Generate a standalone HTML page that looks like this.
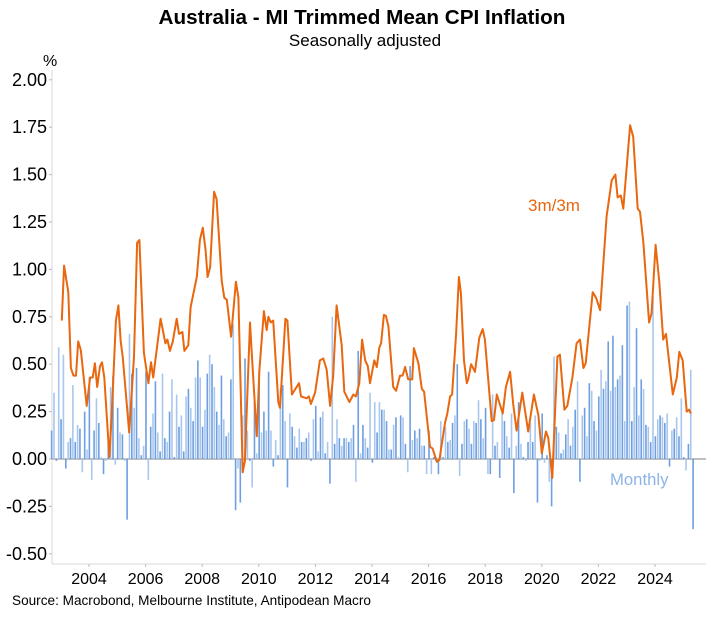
<!DOCTYPE html>
<html><head><meta charset="utf-8"><style>
body{margin:0;background:#fff;}
svg text{font-family:"Liberation Sans",Arial,sans-serif;}
</style></head><body>
<svg id="chart" width="723" height="612" viewBox="0 0 723 612">
<text x="362" y="24" text-anchor="middle" font-size="20.7" font-weight="bold" fill="#000">Australia - MI Trimmed Mean CPI Inflation</text>
<text x="365" y="46" text-anchor="middle" font-size="17" fill="#000">Seasonally adjusted</text>
<text x="43" y="66" font-size="16" fill="#000">%</text>
<g id="grid"></g>
<g id="bars"></g>
<g id="line"></g>
<text x="528" y="211" font-size="17" fill="#E8670F">3m/3m</text>
<text x="610" y="485" font-size="16.7" fill="#8DB4E8">Monthly</text>
<text x="12" y="605" font-size="13.6" fill="#000">Source: Macrobond, Melbourne Institute, Antipodean Macro</text>
</svg>
<script>
const yTicks = [-0.5,-0.25,0,0.25,0.5,0.75,1.0,1.25,1.5,1.75,2.0];
const xTickYears = [2004,2006,2008,2010,2012,2014,2016,2018,2020,2022,2024];
const barStartYear = 2002.68;
const monthlyValues = [0.15,0.35,-0.01,0.59,0.21,0.55,-0.05,0.09,0.11,0.39,0.09,0.18,0.16,-0.07,0.25,0.05,0.43,-0.11,0.15,0.32,0.19,0.01,-0.08,-0.01,0.10,0.38,0.44,-0.03,0.27,0.14,0.13,-0.01,-0.32,0.66,0.45,0.27,0.48,0.11,0.02,0.07,0.46,-0.11,0.17,0.24,0.41,0.14,0.04,
0.45,0.11,0.09,0.25,0.42,0.01,0.34,0.17,0.23,0.04,0.33,0.37,0.27,0.20,0.43,0.52,0.43,0.17,0.26,0.45,0.55,0.50,0.38,0.25,0.18,0.44,0.21,0.12,0.14,0.42,0.71,-0.27,-0.05,-0.23,0.23,0.53,0.15,-0.01,-0.15,0.30,0.03,0.47,0.14,0.25,0.15,
0.46,0.15,-0.04,0.10,0.02,0.37,0.39,0.20,-0.15,0.24,0.17,0.12,0.06,0.16,0.09,0.09,0.11,0.14,-0.01,0.21,0.28,0.04,0.22,0.25,0.03,0.09,-0.13,0.75,0.08,0.21,0.11,0.07,0.11,0.11,0.09,0.11,0.18,-0.12,0.57,0.03,0.18,0.11,0.06,0.35,-0.02,
0.30,0.14,0.30,0.26,0.26,0.20,0.05,0.05,0.18,0.22,0.01,0.23,0.22,0.08,-0.07,0.49,0.10,0.15,0.11,0.16,0.07,0.07,-0.08,0.15,-0.08,0.01,0.01,-0.08,0.20,0.01,0.17,0.09,0.10,0.19,0.23,0.50,-0.09,0.08,0.20,0.21,0.16,0.08,0.20,0.19,0.31,
0.21,0.11,0.27,-0.08,-0.08,0.34,0.07,0.09,-0.10,0.24,0.20,0.12,0.06,0.24,-0.18,0.07,0.30,0.08,0.01,-0.01,0.09,0.19,0.09,0.23,-0.23,-0.01,0.24,-0.02,0.02,-0.12,-0.25,0.54,0.17,0.14,0.03,0.05,0.13,0.21,0.07,0.17,0.26,0.41,-0.12,0.23,0.27,
0.12,0.40,0.36,0.20,0.15,0.33,0.47,0.37,0.41,0.62,0.36,0.65,0.38,0.42,0.44,0.60,0.20,0.81,0.83,0.20,0.38,0.69,0.23,0.42,0.37,0.18,0.17,0.09,0.86,0.12,0.21,0.23,0.22,0.19,0.24,-0.04,0.15,0.16,0.22,0.12,0.32,0.01,-0.06,0.08,0.47,-0.37];
const lineYears = [2003.04,2003.12,2003.27,2003.36,2003.45,2003.54,2003.62,2003.71,2003.92,2004.04,2004.13,2004.21,2004.29,2004.39,2004.46,2004.54,2004.72,2004.80,2004.95,2005.04,2005.12,2005.19,2005.42,2005.59,2005.70,2005.78,2005.94,2006.10,2006.19,2006.27,2006.53,2006.70,2006.77,2006.86,2006.96,2007.10,2007.18,2007.30,2007.37,2007.51,2007.59,2007.81,2007.92,2008.02,2008.12,2008.19,2008.28,2008.42,2008.51,2008.69,2008.78,2008.87,2009.02,2009.19,2009.28,2009.43,2009.51,2009.69,2009.77,2009.93,2010.02,2010.18,2010.28,2010.34,2010.42,2010.51,2010.69,2010.75,2010.94,2011.01,2011.17,2011.42,2011.49,2011.69,2011.77,2011.84,2011.99,2012.16,2012.28,2012.40,2012.52,2012.63,2012.75,2012.93,2013.02,2013.20,2013.34,2013.43,2013.55,2013.65,2013.76,2013.85,2013.93,2014.08,2014.17,2014.26,2014.32,2014.42,2014.49,2014.58,2014.75,2014.85,2014.99,2015.08,2015.17,2015.28,2015.42,2015.48,2015.64,2015.76,2015.84,2016.05,2016.14,2016.29,2016.38,2016.58,2016.66,2016.76,2016.83,2016.97,2017.07,2017.14,2017.25,2017.35,2017.40,2017.50,2017.64,2017.79,2017.91,2017.99,2018.23,2018.31,2018.41,2018.62,2018.73,2018.88,2018.99,2019.11,2019.31,2019.52,2019.72,2019.88,2020.00,2020.15,2020.23,2020.37,2020.55,2020.64,2020.80,2020.90,2021.08,2021.23,2021.35,2021.47,2021.55,2021.80,2021.92,2022.06,2022.29,2022.47,2022.60,2022.68,2022.79,2022.88,2023.12,2023.23,2023.39,2023.47,2023.59,2023.79,2023.88,2024.02,2024.15,2024.29,2024.39,2024.63,2024.77,2024.86,2024.98,2025.12,2025.20,2025.27];
const lineValues = [0.73,1.02,0.88,0.48,0.44,0.44,0.62,0.575,0.28,0.43,0.43,0.505,0.38,0.49,0.51,0.43,0.01,0.22,0.73,0.81,0.62,0.54,0.14,0.54,1.14,1.155,0.56,0.40,0.51,0.43,0.74,0.61,0.63,0.57,0.62,0.74,0.66,0.67,0.57,0.60,0.80,0.96,1.155,1.22,1.10,0.96,1.01,1.41,1.37,0.94,0.85,0.84,0.645,0.935,0.85,-0.07,-0.01,0.72,0.51,0.12,0.47,0.78,0.68,0.75,0.72,0.73,0.30,0.27,0.74,0.73,0.34,0.40,0.33,0.32,0.33,0.29,0.35,0.52,0.53,0.47,0.28,0.44,0.81,0.60,0.355,0.30,0.34,0.33,0.40,0.63,0.52,0.49,0.40,0.52,0.485,0.59,0.61,0.76,0.755,0.70,0.38,0.36,0.44,0.44,0.485,0.42,0.42,0.585,0.505,0.37,0.355,0.065,0.055,-0.015,-0.005,0.19,0.24,0.33,0.34,0.66,0.96,0.875,0.52,0.40,0.42,0.50,0.46,0.64,0.685,0.63,0.20,0.205,0.34,0.24,0.38,0.46,0.29,0.15,0.35,0.145,0.34,0.23,0.03,0.145,0.11,-0.10,0.54,0.55,0.26,0.28,0.43,0.61,0.63,0.48,0.505,0.88,0.85,0.785,1.28,1.47,1.50,1.38,1.39,1.32,1.76,1.70,1.32,1.305,1.14,0.72,0.77,1.13,0.94,0.63,0.66,0.34,0.43,0.565,0.52,0.25,0.26,0.24];

const NS='http://www.w3.org/2000/svg';
const plotL=52, plotR=706, plotT=70, plotB=564;
function xScale(yr){return 89+(yr-2004)*28.3;}
function yScale(v){return 459-v*189.6;}
function mk(tag,attrs,parent){const e=document.createElementNS(NS,tag);for(const k in attrs)e.setAttribute(k,attrs[k]);parent.appendChild(e);return e;}
const grid=document.getElementById('grid');
let ax=mk('line',{x1:plotL,y1:plotT,x2:plotL,y2:plotB,stroke:'#d9d9d9','stroke-width':1},grid);


let bx=mk('line',{x1:plotL,y1:plotB,x2:plotR,y2:plotB,stroke:'#d9d9d9','stroke-width':1},grid);


yTicks.forEach(v=>{
  const y=yScale(v);
  const t=mk('line',{x1:plotL-3,y1:y,x2:plotL,y2:y,stroke:'#bbb'},grid);
  
  
  const l=mk('text',{x:47,y:y+6,'text-anchor':'end','font-size':18,fill:'#000'},grid);
  l.textContent=v.toFixed(2);
  
  
});
xTickYears.forEach(yr=>{
  const x=xScale(yr);
  const t=mk('line',{x1:x,y1:plotB,x2:x,y2:plotB+3,stroke:'#bbb'},grid);
  
  
  const l=mk('text',{x:x,y:584,'text-anchor':'middle','font-size':16,fill:'#000'},grid);
  l.textContent=yr;
  
  
});
const zl=mk('line',{x1:plotL,y1:yScale(0),x2:plotR,y2:yScale(0),stroke:'#999','stroke-width':1.2},grid);


const bars=document.getElementById('bars');
monthlyValues.forEach((v,i)=>{
  const x=xScale(barStartYear+i/12);
  const y0=yScale(0), y1=yScale(v);
  const r=mk('rect',{x:x-0.8,y:Math.min(y0,y1),width:1.6,height:Math.max(0.5,Math.abs(y1-y0)),fill:i%2?'#A9C7EE':'#6E9FE0'},bars);
  
  
});
const lineG=document.getElementById('line');
const d=lineYears.map((yr,i)=>(i?'L':'M')+xScale(yr).toFixed(1)+','+yScale(lineValues[i]).toFixed(1)).join(' ');
const p=mk('path',{d:d,fill:'none',stroke:'#E8670F','stroke-width':2,'stroke-linejoin':'round'},lineG);


</script>
</body></html>
